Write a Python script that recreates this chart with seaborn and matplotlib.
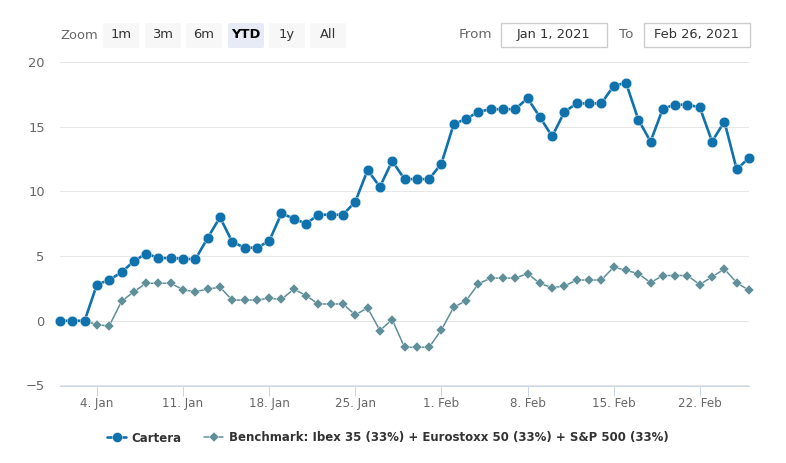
import matplotlib
matplotlib.use("Agg")
import matplotlib.pyplot as plt
from matplotlib.patches import FancyBboxPatch, Rectangle
import pandas as pd
import seaborn as sns

START = "2021-01-01"
END = "2021-02-26"
cartera = [0, 0, 0, 2.8, 3.15, 3.75, 4.6, 5.2, 4.85, 4.85, 4.8, 4.75, 6.4, 8.0, 6.1, 5.65, 5.65, 6.15, 8.3,
           7.9, 7.5, 8.2, 8.2, 8.2, 9.2, 11.65, 10.35, 12.35, 10.95, 10.95, 10.95, 12.15, 15.2, 15.6, 16.15,
           16.35, 16.35, 16.35, 17.2, 15.75, 14.25, 16.15, 16.8, 16.8, 16.8, 18.15, 18.4, 15.55, 13.85, 16.4,
           16.7, 16.7, 16.5, 13.85, 15.4, 11.7, 12.6]
benchmark = [0, 0, 0, -0.3, -0.4, 1.5, 2.25, 2.9, 2.9, 2.9, 2.4, 2.25, 2.45, 2.6, 1.6, 1.6, 1.6, 1.75, 1.65,
             2.45, 1.95, 1.3, 1.3, 1.3, 0.45, 1.0, -0.75, 0.1, -2.05, -2.05, -2.05, -0.7, 1.05, 1.55, 2.85,
             3.3, 3.3, 3.3, 3.65, 2.9, 2.55, 2.7, 3.15, 3.15, 3.15, 4.15, 3.9, 3.65, 2.95, 3.5, 3.5, 3.5,
             2.8, 3.4, 4.0, 2.95, 2.35]
x_ticks = ["2021-01-04", "2021-01-11", "2021-01-18", "2021-01-25", "2021-02-01", "2021-02-08", "2021-02-15", "2021-02-22"]
x_labels = ["4. Jan", "11. Jan", "18. Jan", "25. Jan", "1. Feb", "8. Feb", "15. Feb", "22. Feb"]
y_ticks = [-5, 0, 5, 10, 15, 20]
zoom_labels = ["1m", "3m", "6m", "YTD", "1y", "All"]
name_a = "Cartera"
name_b = "Benchmark: Ibex 35 (33%) + Eurostoxx 50 (33%) + S&P 500 (33%)"

sns.set_theme(style="white")
plt.rcParams["font.family"] = ["DejaVu Sans"]

W, H = 786, 463
dates = pd.date_range(START, END, freq="D")
df = pd.DataFrame({"date": dates, "a": cartera, "b": benchmark})

fig = plt.figure(figsize=(W / 100, H / 100), dpi=100, facecolor="white")
ax = fig.add_axes([60 / W, 1 - 385.5 / H, (749 - 60) / W, (385.5 - 62) / H])
ax.set_facecolor("none")

sns.lineplot(data=df, x="date", y="b", ax=ax, color="#5f8f99", lw=1.1, marker="D", ms=4.9,
             mec="white", mew=0.3, label=name_b, zorder=3, legend=False)
sns.lineplot(data=df, x="date", y="a", ax=ax, color="#0f72ad", lw=1.9, marker="o", ms=7.6,
             mec="white", mew=0.3, label=name_a, zorder=4, legend=False)

ax.set_xlim(pd.Timestamp(START), pd.Timestamp(END))
ax.set_ylim(-5, 20)
ax.set_xlabel("")
ax.set_ylabel("")
ax.set_yticks(y_ticks)
ax.set_xticks(pd.to_datetime(x_ticks))
ax.set_xticklabels(x_labels)
ax.tick_params(axis="y", length=0, pad=11, labelsize=9.4, labelcolor="#666666")
ax.tick_params(axis="x", length=7.5, width=0.75, color="#ccd6eb", pad=1, labelsize=8.6, labelcolor="#666666", bottom=True)
for lab in ax.get_yticklabels():
    lab.set_ha("right")
ax.grid(axis="y", color="#e6e6e6", lw=0.75)
ax.grid(axis="x", visible=False)
for s in ["top", "left", "right"]:
    ax.spines[s].set_visible(False)
ax.spines["bottom"].set_color("#ccd6eb")
ax.spines["bottom"].set_linewidth(0.75)
for line in ax.lines:
    line.set_clip_on(False)


def px(x, y):
    return x / W, 1 - y / H


def label(x, y, s, ha="center", color="#666666", size=9.4, weight="normal"):
    fig.text(*px(x, y), s, ha=ha, va="center", color=color, fontsize=size, fontweight=weight)


label(60, 35.5, "Zoom", ha="left")
btn_x = [103, 145, 186, 228, 269, 310]
for bx, s in zip(btn_x, zoom_labels):
    active = s == "YTD"
    fig.add_artist(FancyBboxPatch(px(bx, 48), 36 / W, 25 / H, boxstyle="round,pad=0,rounding_size=0.003",
                                  transform=fig.transFigure, fc="#e6ebf5" if active else "#f7f7f7", ec="none"))
    label(bx + 18, 34.5, s, color="#000000" if active else "#333333", weight="bold" if active else "normal")

label(459, 34.5, "From", ha="left", size=9.7)
label(619, 34.5, "To", ha="left", size=9.7)
for x0, x1, s in [(500.5, 606.5, "Jan 1, 2021"), (644, 750, "Feb 26, 2021")]:
    fig.add_artist(Rectangle(px(x0, 47), (x1 - x0) / W, 24 / H, transform=fig.transFigure,
                             fc="white", ec="#cccccc", lw=1))
    label((x0 + x1) / 2, 34.5, s, color="#333333")

handles, labels = ax.get_legend_handles_labels()
order = [labels.index(name_a), labels.index(name_b)]
leg = fig.legend([handles[i] for i in order], [labels[i] for i in order], loc="center",
                 bbox_to_anchor=px(388, 438), ncol=2, frameon=False,
                 prop={"weight": "bold", "size": 8.5}, columnspacing=1.9, handlelength=1.6, handletextpad=0.5,
                 labelcolor="#333333", markerscale=0.95)

fig.savefig("out.png", dpi=100)
